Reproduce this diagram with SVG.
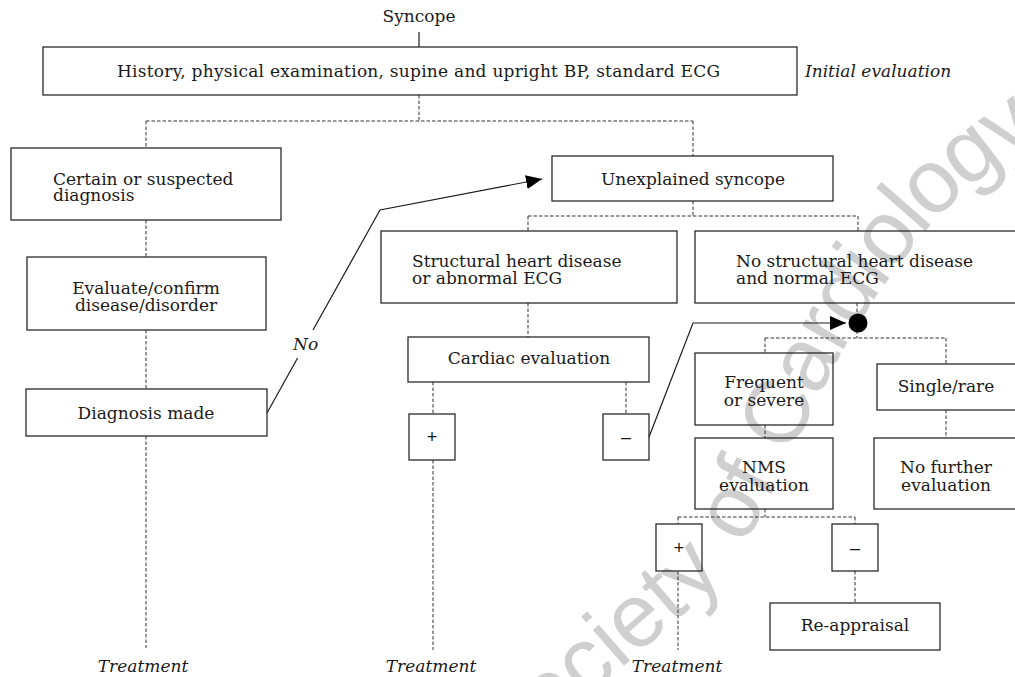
<svg xmlns="http://www.w3.org/2000/svg" width="1015" height="677" viewBox="0 0 1015 677">
<style>
.bg{fill:#ffffff}
.box{fill:none;stroke:#2a2a2a;stroke-width:1.3}
.t{font-family:"DejaVu Serif","Liberation Serif",serif;font-size:17px;fill:#1a1a1a}
.c{text-anchor:middle}
.i{font-style:italic}
.s{font-family:"Liberation Sans",Arial,sans-serif;font-size:18px;fill:#1a1a1a;text-anchor:middle}
.d{fill:none;stroke:#333;stroke-width:1;stroke-dasharray:3.5 2}
.l{fill:none;stroke:#1a1a1a;stroke-width:1.2}
.wm{font-family:"Liberation Sans",Arial,sans-serif;font-size:90px;fill:#cfcfcf}
</style>
<defs>
<marker id="ah" markerUnits="userSpaceOnUse" markerWidth="18" markerHeight="14" refX="16" refY="7" orient="auto">
<path d="M0,0 L16,7 L0,14 Z" fill="#000"/>
</marker>
<path id="wmpath" d="M482,748 L681,575 C740,520 780,380 850,280 S935,170 1080,70"/>
</defs>
<rect class="bg" x="0" y="0" width="1015" height="677"/>
<g id="watermark">
<text class="wm" dominant-baseline="central"><textPath href="#wmpath" startOffset="0">Society of Cardiology</textPath></text>
</g>
<g id="connectors">
<line class="l" x1="419" y1="32" x2="419" y2="47"/>
<path class="d" d="M419,95 V121 M146,121 H693 M146,121 V148 M693,121 V156"/>
<path class="d" d="M146,220 V257 M146,330 V389 M146,436 V648"/>
<path class="d" d="M693,201 V216 M528,216 H858 M528,216 V231 M858,216 V231"/>
<path class="d" d="M528,303 V337 M433,382 V414 M433,460 V650 M626,382 V414"/>
<path class="d" d="M857,303 V338 M765,338 H946 M765,338 V353 M946,338 V364 M946,410 V438 M765,425 V438"/>
<path class="d" d="M765,509 V517 M678,517 H855 M678,517 V524 M855,517 V524 M678,571 V650 M855,571 V603"/>
<path class="l" d="M267,413 L297.6,358"/>
<path class="l" d="M313,330 L380,210 L542,179" marker-end="url(#ah)"/>
<path class="l" d="M649,437 L693,323 L846,323" marker-end="url(#ah)"/>
<circle cx="858" cy="323" r="9.5" fill="#000"/>
</g>
<g id="syncope"><text class="t c" x="419" y="22">Syncope</text></g>
<g id="initial">
<rect class="box" x="43" y="47" width="754" height="48"/>
<text class="t" x="117" y="77" textLength="603" lengthAdjust="spacing">History, physical examination, supine and upright BP, standard ECG</text>
</g>
<g id="initial-label"><text class="t i" x="805" y="77">Initial evaluation</text></g>
<g id="certain">
<rect class="box" x="11" y="148" width="270" height="72"/>
<text class="t" x="53" y="185">Certain or suspected</text>
<text class="t" x="53" y="201">diagnosis</text>
</g>
<g id="evaluate">
<rect class="box" x="27" y="257" width="239" height="73"/>
<text class="t c" x="146" y="294">Evaluate/confirm</text>
<text class="t c" x="146" y="311">disease/disorder</text>
</g>
<g id="diagmade">
<rect class="box" x="26" y="389" width="241" height="47"/>
<text class="t c" x="146" y="419">Diagnosis made</text>
</g>
<g id="no-label"><text class="t i" x="293" y="350">No</text></g>
<g id="unexplained">
<rect class="box" x="552" y="156" width="281" height="45"/>
<text class="t c" x="693" y="185">Unexplained syncope</text>
</g>
<g id="structural">
<rect class="box" x="381" y="231" width="296" height="72"/>
<text class="t" x="412" y="267">Structural heart disease</text>
<text class="t" x="412" y="284">or abnormal ECG</text>
</g>
<g id="nostructural">
<rect class="box" x="695" y="231" width="330" height="72"/>
<text class="t" x="736" y="267">No structural heart disease</text>
<text class="t" x="736" y="284">and normal ECG</text>
</g>
<g id="cardiac">
<rect class="box" x="408" y="337" width="241" height="45"/>
<text class="t c" x="529" y="364">Cardiac evaluation</text>
</g>
<g id="plus1">
<rect class="box" x="409" y="414" width="46" height="46"/>
<text class="s" x="432" y="443">+</text>
</g>
<g id="minus1">
<rect class="box" x="603" y="414" width="46" height="46"/>
<text class="s" x="626" y="443">–</text>
</g>
<g id="frequent">
<rect class="box" x="695" y="353" width="138" height="72"/>
<text class="t c" x="764" y="388">Frequent</text>
<text class="t c" x="764" y="406">or severe</text>
</g>
<g id="single">
<rect class="box" x="877" y="364" width="148" height="46"/>
<text class="t c" x="946" y="392">Single/rare</text>
</g>
<g id="nms">
<rect class="box" x="695" y="438" width="138" height="71"/>
<text class="t c" x="764" y="473">NMS</text>
<text class="t c" x="764" y="491">evaluation</text>
</g>
<g id="nofurther">
<rect class="box" x="874" y="438" width="151" height="71"/>
<text class="t c" x="946" y="473">No further</text>
<text class="t c" x="946" y="491">evaluation</text>
</g>
<g id="plus2">
<rect class="box" x="656" y="524" width="46" height="47"/>
<text class="s" x="679" y="554">+</text>
</g>
<g id="minus2">
<rect class="box" x="832" y="524" width="46" height="47"/>
<text class="s" x="855" y="554">–</text>
</g>
<g id="reappraisal">
<rect class="box" x="770" y="603" width="170" height="47"/>
<text class="t c" x="855" y="631">Re-appraisal</text>
</g>
<g id="treat1"><text class="t i c" x="143" y="672">Treatment</text></g>
<g id="treat2"><text class="t i c" x="431" y="672">Treatment</text></g>
<g id="treat3"><text class="t i c" x="677" y="672">Treatment</text></g>
</svg>
